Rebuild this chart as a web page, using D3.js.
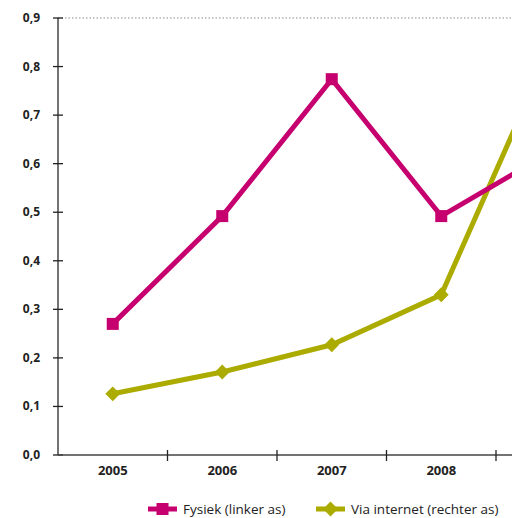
<!DOCTYPE html>
<html>
<head>
<meta charset="utf-8">
<script src="https://cdn.jsdelivr.net/npm/d3@7"></script>
<style>
  body { margin: 0; background: #fff; }
  text { font-family: "Open Sans", sans-serif; fill: #222; }
</style>
</head>
<body>
<div id="chart"></div>
<script>
// Data
const years = ["2005", "2006", "2007", "2008", "2009"];
const fysiek = [0.27, 0.492, 0.774, 0.492, 0.624];
const viaInternet = [0.126, 0.171, 0.227, 0.33, 0.84];
const yTicks = [0, 0.1, 0.2, 0.3, 0.4, 0.5, 0.6, 0.7, 0.8, 0.9];

const PINK = "#c6006e";
const OLIVE = "#abab00";

function renderChart(container) {
  const width = 512, height = 518;
  const left = 58, top = 18, bottom = 455;
  const step = 109.5;

  const svg = d3.select(container).append("svg")
    .attr("width", width).attr("height", height);

  // x: one band per year, plot runs off the right edge
  const x = d3.scaleBand().domain(years)
    .range([left, left + step * years.length]);
  const y = d3.scaleLinear().domain([0, 0.9]).range([bottom, top]);
  const fmt = d => d3.format(".1f")(d).replace(".", ",");

  // top dotted gridline
  svg.append("line")
    .attr("x1", left).attr("x2", width)
    .attr("y1", y(0.9)).attr("y2", y(0.9))
    .attr("stroke", "#888").attr("stroke-width", 1)
    .attr("stroke-dasharray", "1.5,2");

  // y axis
  svg.append("line")
    .attr("x1", left).attr("x2", left)
    .attr("y1", y(0)).attr("y2", y(0.9))
    .attr("stroke", "#444").attr("stroke-width", 1.5);
  svg.selectAll(".ytick").data(yTicks).join("line")
    .attr("x1", left - 5).attr("x2", left + 5)
    .attr("y1", d => y(d)).attr("y2", d => y(d))
    .attr("stroke", "#222").attr("stroke-width", 1.3);
  svg.selectAll(".ylab").data(yTicks).join("text")
    .attr("x", 40).attr("y", d => y(d) + 4)
    .attr("text-anchor", "end")
    .attr("font-size", 12).attr("font-weight", 700)
    .text(fmt);

  // x axis
  svg.append("line")
    .attr("x1", left).attr("x2", width)
    .attr("y1", y(0)).attr("y2", y(0))
    .attr("stroke", "#444").attr("stroke-width", 1.5);
  svg.selectAll(".xtick").data(years).join("line")
    .attr("x1", d => x(d) + x.bandwidth()).attr("x2", d => x(d) + x.bandwidth())
    .attr("y1", y(0) - 5).attr("y2", y(0) + 6)
    .attr("stroke", "#222").attr("stroke-width", 1.3);
  // only years whose label fits inside the picture
  svg.selectAll(".xlab")
    .data(years.filter(d => x(d) + x.bandwidth() / 2 + 20 < width))
    .join("text")
    .attr("x", d => x(d) + x.bandwidth() / 2).attr("y", 475)
    .attr("text-anchor", "middle")
    .attr("font-size", 13).attr("font-weight", 700)
    .text(d => d);

  const cx = (d, i) => x(years[i]) + x.bandwidth() / 2;
  const line = d3.line().x(cx).y(d => y(d));

  const plot = svg.append("g");

  // Via internet (olive, diamonds)
  plot.append("path").datum(viaInternet)
    .attr("d", line).attr("fill", "none")
    .attr("stroke", OLIVE).attr("stroke-width", 5);
  plot.selectAll(".dia").data(viaInternet).join("path")
    .attr("d", d3.symbol(d3.symbolSquare, 110))
    .attr("transform", (d, i) => `translate(${cx(d, i)},${y(d)}) rotate(45)`)
    .attr("fill", OLIVE);

  // Fysiek (pink, squares)
  plot.append("path").datum(fysiek)
    .attr("d", line).attr("fill", "none")
    .attr("stroke", PINK).attr("stroke-width", 5);
  plot.selectAll(".sq").data(fysiek).join("rect")
    .attr("x", (d, i) => cx(d, i) - 6).attr("y", d => y(d) - 6)
    .attr("width", 12).attr("height", 12)
    .attr("fill", PINK);

  // legend
  const legend = [
    { label: "Fysiek (linker as)", color: PINK, shape: "square", x: 148 },
    { label: "Via internet (rechter as)", color: OLIVE, shape: "diamond", x: 316 }
  ];
  const ly = 509;
  legend.forEach(l => {
    const g = svg.append("g");
    g.append("line").attr("x1", l.x).attr("x2", l.x + 29)
      .attr("y1", ly).attr("y2", ly)
      .attr("stroke", l.color).attr("stroke-width", 5);
    if (l.shape === "square") {
      g.append("rect").attr("x", l.x + 14.5 - 6).attr("y", ly - 6)
        .attr("width", 12).attr("height", 12).attr("fill", l.color);
    } else {
      g.append("path").attr("d", d3.symbol(d3.symbolSquare, 110))
        .attr("transform", `translate(${l.x + 14.5},${ly}) rotate(45)`)
        .attr("fill", l.color);
    }
    g.append("text").attr("x", l.x + 35).attr("y", ly + 5)
      .attr("font-size", 13.5).attr("font-weight", 500)
      .text(l.label);
  });
}

renderChart(document.getElementById("chart"));
</script>
</body>
</html>
